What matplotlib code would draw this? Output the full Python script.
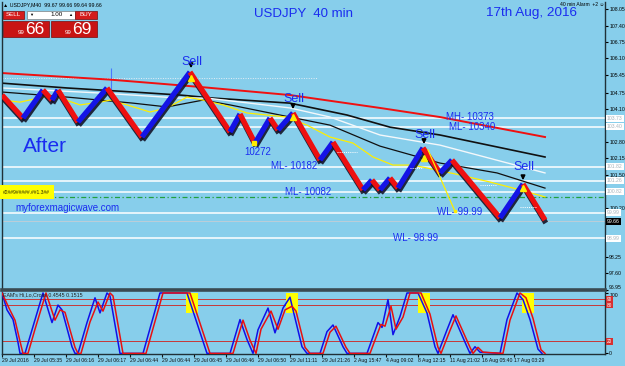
import matplotlib.pyplot as plt
import matplotlib.patheffects as pe
from matplotlib.patches import Rectangle

plt.rcParams['font.family'] = ['Liberation Sans', 'DejaVu Sans']

SKY = '#87CEEB'
BLUE_TXT = '#1a2cf0'

# magic wave bricks: turning points (bar index, price)
wave_x = [2, 23, 43, 52, 58, 78, 107, 142, 190, 230, 240, 255, 270, 278, 293, 320, 333,
          363, 372, 380, 390, 398, 423, 440, 452, 500, 523, 545]
wave_p = [104.65, 103.74, 104.85, 104.45, 104.85, 103.58, 104.93, 102.99, 105.56, 103.19,
          103.90, 102.75, 103.74, 103.27, 103.94, 102.08, 102.79, 100.90, 101.29, 100.90,
          101.37, 100.97, 102.56, 101.57, 102.08, 99.79, 101.13, 99.71]

# moving averages
ma_red_x = [2, 110, 160, 200, 290, 380, 440, 545]
ma_red_p = [105.52, 105.26, 105.10, 104.97, 104.65, 104.14, 103.78, 102.99]
ma_blk1_x = [2, 67, 133, 180, 213, 290, 347, 390, 440, 545]
ma_blk1_p = [105.12, 104.93, 104.77, 104.65, 104.53, 104.33, 103.86, 103.38, 103.07, 102.20]
ma_wht_x = [2, 100, 180, 207, 290, 330, 380, 440, 545]
ma_wht_p = [104.93, 104.73, 104.53, 104.53, 104.14, 103.78, 103.07, 102.67, 101.57]
ma_blk2_x = [2, 67, 133, 167, 203, 230, 290, 330, 380, 440, 497, 545]
ma_blk2_p = [104.77, 104.57, 104.33, 104.18, 104.45, 104.26, 103.78, 103.46, 102.63,
             101.96, 101.57, 100.97]
ma_yel_x = [2, 20, 43, 60, 80, 100, 110, 127, 150, 167, 187, 203, 223, 247, 287, 307, 330,
            353, 373, 393, 413, 460, 490, 520, 545]
ma_yel_p = [104.45, 104.37, 104.57, 104.53, 104.26, 104.37, 104.45, 104.26, 103.98, 104.14,
            104.57, 104.45, 104.26, 103.94, 103.78, 103.46, 102.99, 102.75, 102.20, 101.88,
            101.88, 101.49, 101.21, 100.90, 100.62]

# horizontal levels
levels = [103.73, 103.40, 101.82, 101.26, 100.82, 99.99, 98.99]
bid = 99.66
green_level = 100.62
dotted_top = 105.32
short_dots = [(337, 357, 102.41), (410, 423, 101.77), (480, 497, 101.09), (520, 537, 100.22)]

# sell signals
sell_x = [191, 293, 424, 523]
sell_p = [105.56, 103.94, 102.56, 101.13]
flag_p = [105.32, 103.78, 102.16, 100.97]
proj_x = [428, 455]
proj_p = [102.48, 100.05]

price_ticks = [108.05, 107.40, 106.75, 106.10, 105.45, 104.75, 104.10, 102.80, 102.15,
               101.50, 100.20, 98.25, 97.60, 96.95]

# oscillator (Hi,Lo,Cross)
osc_bx = [2, 7, 13, 18, 20, 25, 32, 43, 52, 58, 62, 72, 75, 78, 87, 95, 100, 107, 110, 120,
          143, 160, 187, 207, 230, 240, 247, 253, 258, 268, 275, 283, 290, 293, 302, 307,
          320, 327, 333, 343, 347, 367, 372, 378, 382, 388, 393, 400, 407, 418, 427, 435,
          438, 447, 453, 467, 470, 475, 480, 500, 507, 517, 523, 530, 538, 542]
osc_bv = [100, 72, 56, 18, 0, 0, 39, 100, 51, 80, 72, 11, 0, 0, 51, 92, 67, 100, 95, 0,
          0, 100, 100, 0, 0, 56, 23, 0, 39, 75, 34, 75, 93, 72, 11, 0,
          0, 36, 47, 11, 0, 0, 23, 51, 43, 89, 31, 61, 100, 100, 67, 11,
          0, 39, 64, 11, 0, 11, 2, 0, 56, 100, 89, 56, 7, 0]
osc_rx = [2, 9, 15, 20, 23, 28, 35, 46, 55, 60, 65, 75, 78, 81, 90, 98, 103, 110, 113, 123,
          146, 163, 190, 210, 233, 243, 250, 256, 261, 271, 278, 285, 292, 296, 305, 310,
          323, 330, 336, 346, 350, 370, 375, 381, 385, 391, 396, 403, 410, 421, 430, 438,
          441, 450, 456, 470, 473, 478, 483, 503, 510, 520, 526, 533, 541, 545]
osc_rv = [100, 75, 55, 20, 0, 0, 40, 100, 55, 72, 68, 10, 0, 0, 52, 85, 70, 100, 95, 0,
          0, 100, 100, 0, 0, 55, 22, 0, 40, 70, 40, 72, 78, 70, 10, 0,
          0, 35, 45, 10, 0, 0, 22, 48, 45, 78, 40, 60, 100, 100, 65, 10,
          0, 38, 62, 10, 0, 10, 2, 0, 55, 100, 92, 58, 6, 0]
osc_levels = [90, 80, 20]
hl_start = [186, 286, 418, 522]

time_ticks = [2, 34, 66, 98, 130, 162, 194, 226, 258, 290, 322, 354, 386, 418, 450, 482, 514]
time_labels = ['29 Jul 2016', '29 Jul 05:35', '29 Jul 06:16', '29 Jul 06:17', '29 Jul 06:44',
               '29 Jul 06:44', '29 Jul 06:45', '29 Jul 06:46', '29 Jul 06:50', '29 Jul 11:11',
               '29 Jul 21:26', '2 Aug 15:47', '4 Aug 09:02', '8 Aug 12:15', '11 Aug 21:02',
               '16 Aug 05:40', '17 Aug 03:29']

fig = plt.figure(figsize=(6.25, 3.66), dpi=100, facecolor=SKY)

# ---- main price window ----
ax = fig.add_axes([2 / 625, 1 - 290 / 366, 603 / 625, 288 / 366], facecolor=SKY)
ax.set_xlim(2, 605)
ax.set_ylim(96.94, 108.33)

for v in levels:
    ax.axhline(v, color='white', lw=1.1, zorder=1)
ax.axhline(bid, color='#c5cdd5', lw=0.6, zorder=1)
ax.axhline(green_level, color='#22a040', lw=0.9, ls=(0, (4, 2, 1, 2)), zorder=1)
ax.hlines(dotted_top, 2, 318, colors='#e6eef6', linestyles=(0, (1, 1.5)), lw=0.7)
for x0, x1, v in short_dots:
    ax.hlines(v, x0, x1, colors='white', linestyles=(0, (1, 1.2)), lw=0.7, zorder=4)

ax.vlines(111, 104.45, 105.72, colors='#4a78ff', lw=0.8, zorder=2)

ax.plot(ma_red_x, ma_red_p, color='#f01010', lw=1.4, zorder=2)
ax.plot(ma_blk1_x, ma_blk1_p, color='#101010', lw=1.2, zorder=2)
ax.plot(ma_wht_x, ma_wht_p, color='#f4f8fb', lw=1.0, zorder=2)
ax.plot(ma_blk2_x, ma_blk2_p, color='#101010', lw=0.9, zorder=2)
ax.plot(ma_yel_x, ma_yel_p, color='#ffee00', lw=0.9, zorder=2)

shadow = [pe.SimpleLineShadow(offset=(0.6, -2.2), shadow_color='#141428', alpha=0.9), pe.Normal()]
for i in range(len(wave_x) - 1):
    up = wave_p[i + 1] > wave_p[i]
    ax.plot(wave_x[i:i + 2], wave_p[i:i + 2], color='#1414e6' if up else '#ee1010',
            lw=3.8, solid_capstyle='butt', zorder=3, path_effects=shadow)

ax.plot(sell_x, flag_p, ls='none', marker='^', ms=5, color='#ffee00', zorder=4)
ax.plot(proj_x, proj_p, color='#ffee00', lw=0.9, marker='s', ms=2, markevery=[1], zorder=4)
ax.plot([254], [102.75], ls='none', marker='s', ms=2.5, color='#ffee00', zorder=4)

for x, p in zip(sell_x, sell_p):
    ax.annotate('', xy=(x, p + 0.04), xytext=(x, p + 0.42),
                arrowprops=dict(arrowstyle='-|>', color='black', lw=1.2, mutation_scale=6),
                zorder=5)
sell_text_p = [105.96, 104.49, 103.07, 101.80]
for x, p in zip(sell_x, sell_text_p):
    ax.text(x + 1, p, 'Sell', color=BLUE_TXT, fontsize=9, ha='center', va='center', zorder=5)

ax.text(45, 102.63, 'After', color=BLUE_TXT, fontsize=15, ha='center', va='center')
ax.text(258, 102.40, '10272', color=BLUE_TXT, fontsize=7, ha='center', va='center')
ax.text(294, 101.84, 'ML- 10182', color=BLUE_TXT, fontsize=7, ha='center', va='center')
ax.text(308, 100.82, 'ML- 10082', color=BLUE_TXT, fontsize=7, ha='center', va='center')
ax.text(470, 103.78, 'MH- 10373', color=BLUE_TXT, fontsize=7, ha='center', va='center')
ax.text(472, 103.38, 'ML- 10340', color=BLUE_TXT, fontsize=7, ha='center', va='center')
ax.text(460, 100.03, 'WL- 99.99', color=BLUE_TXT, fontsize=7, ha='center', va='center')
ax.text(416, 98.99, 'WL- 98.99', color=BLUE_TXT, fontsize=7, ha='center', va='center')
ax.text(67, 100.18, 'myforexmagicwave.com', color=BLUE_TXT, fontsize=7, ha='center', va='center')
ax.text(303, 107.85, 'USDJPY  40 min', color=BLUE_TXT, fontsize=9.5, ha='center', va='center')
ax.text(532, 107.89, '17th Aug, 2016', color=BLUE_TXT, fontsize=9.7, ha='center', va='center')
ax.text(3, 100.80, '#2##9#####.##1.3##', fontsize=3.6, color='#303000', va='center', ha='left',
        bbox=dict(boxstyle='square,pad=0.9', fc='#ffff00', ec='none'))

ax.yaxis.tick_right()
ax.set_yticks(price_ticks)
ax.set_yticklabels([f'{v:.2f}' for v in price_ticks])
ax.tick_params(axis='y', labelsize=3.7, length=2, pad=1, colors='black')
ax.get_yticklabels()[-1].set_va('bottom')
ax.set_xticks([])
for v in levels:
    ax.text(607, v, f'{v:.2f}', fontsize=3.7, color='#a8b4bc', ha='left', va='center',
            clip_on=False, bbox=dict(boxstyle='square,pad=0.2', fc='white', ec='none'))
ax.text(607, bid, f'{bid:.2f}', fontsize=3.7, color='white', ha='left', va='center',
        clip_on=False, bbox=dict(boxstyle='square,pad=0.2', fc='black', ec='none'))

for s in ['left', 'right']:
    ax.spines[s].set_color('#203038')
    ax.spines[s].set_linewidth(1)
ax.spines['top'].set_visible(False)
ax.spines['bottom'].set_color('#3a4a52')
ax.spines['bottom'].set_linewidth(2.6)

# ---- oscillator window ----
ax2 = fig.add_axes([2 / 625, 1 - 354 / 366, 603 / 625, 62 / 366], facecolor=SKY)
ax2.set_xlim(2, 605)
ax2.set_ylim(-1, 101.6)
for v in osc_levels:
    ax2.axhline(v, color='#c83838', lw=0.7, zorder=1)
for x0 in hl_start:
    ax2.add_patch(Rectangle((x0, 67), 12, 33, fc='#ffff00', ec='none', zorder=1.5))
ax2.plot(osc_bx, osc_bv, color='#1010e8', lw=1.1, zorder=3)
ax2.plot(osc_rx, osc_rv, color='#e81010', lw=1.1, zorder=3)
ax2.text(3, 97, "EAM's Hi,Lo,Cross 0.4545 0.1515", fontsize=3.8, color='#202020', va='center')

ax2.yaxis.tick_right()
ax2.set_yticks([100, 0])
ax2.set_yticklabels(['100', '0'])
ax2.tick_params(axis='y', labelsize=3.7, length=2, pad=1)
ax2.get_yticklabels()[0].set_va('top')
for v in osc_levels:
    ax2.text(607, v, str(v), fontsize=3.4, color='white', ha='left', va='center', clip_on=False,
             bbox=dict(boxstyle='square,pad=0.15', fc='#d83030', ec='none'))
ax2.set_xticks(time_ticks)
ax2.set_xticklabels(time_labels, ha='left')
ax2.tick_params(axis='x', labelsize=3.7, length=2, pad=1, colors='#101010')
for s in ['left', 'right', 'bottom']:
    ax2.spines[s].set_color('#203038')
    ax2.spines[s].set_linewidth(1)
ax2.spines['top'].set_visible(False)

# ---- terminal header and one-click trade panel ----
ov = fig.add_axes([0, 0, 1, 1])
ov.set_xlim(0, 625)
ov.set_ylim(366, 0)
ov.axis('off')
ov.text(3, 5, '\u25b2 USDJPY,M40  99.67 99.66 99.64 99.66', fontsize=3.8, va='center')
ov.text(560, 5, '40 min Alarm  +2 \u263a', fontsize=3.6, va='center')
ov.add_patch(Rectangle((3, 11), 21, 8, fc='#d41c1c', ec='#7a0a0a', lw=0.5))
ov.text(13.5, 15, 'SELL', color='white', fontsize=4.5, ha='center', va='center')
ov.add_patch(Rectangle((27, 11), 48, 8, fc='white', ec='#808080', lw=0.5))
ov.text(31, 15, '\u25bc', fontsize=3, ha='center', va='center')
ov.text(70, 15, '\u25b2', fontsize=3, ha='center', va='center')
ov.text(63, 15, '1.00', fontsize=4.5, ha='right', va='center')
ov.add_patch(Rectangle((75, 11), 22, 8, fc='#d41c1c', ec='#7a0a0a', lw=0.5))
ov.text(86, 15, 'BUY', color='white', fontsize=4.5, ha='center', va='center')
ov.add_patch(Rectangle((3, 21), 46, 16, fc='#c81414', ec='#7a0a0a', lw=0.5))
ov.add_patch(Rectangle((51, 21), 46, 16, fc='#c81414', ec='#7a0a0a', lw=0.5))
ov.text(21, 32, '99', color='white', fontsize=4.5, ha='center', va='center')
ov.text(35, 29.5, '66', color='white', fontsize=12.5, ha='center', va='center')
ov.text(68, 32, '99', color='white', fontsize=4.5, ha='center', va='center')
ov.text(82, 29.5, '69', color='white', fontsize=12.5, ha='center', va='center')

fig.savefig('out.png', dpi=100, facecolor=SKY)
